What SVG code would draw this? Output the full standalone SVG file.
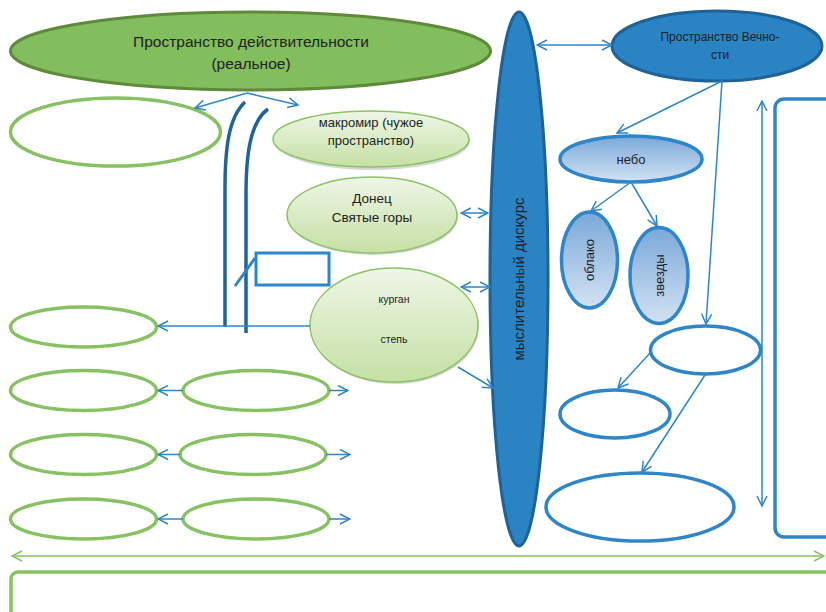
<svg xmlns="http://www.w3.org/2000/svg" width="826" height="612" viewBox="0 0 826 612">
<style>
text{font-family:"Liberation Sans","Noto Sans",Arial,sans-serif;fill:#222;text-anchor:middle}
.conn{fill:none;stroke:#2e86c8;stroke-width:1.5}
.gconn{fill:none;stroke:#86c262;stroke-width:1.5}
.gempty{fill:#fff;stroke:#86c262;stroke-width:3.5}
.bempty{fill:#fff;stroke:#2e86c8;stroke-width:3.5}
.dark{fill:#2a83c2;stroke:#1f6296;stroke-width:3}
.lgreen{stroke:#8bc264;stroke-width:1.5}
.curve{fill:none;stroke:#1f6498;stroke-width:3.5}
</style>
<defs>
<marker id="ah" viewBox="0 0 12 12" markerWidth="12" markerHeight="12" refX="11" refY="6" orient="auto-start-reverse" markerUnits="userSpaceOnUse">
<path d="M1,1 L11,6 L1,11" fill="none" stroke="#2e86c8" stroke-width="1.5"/>
</marker>
<marker id="gh" viewBox="0 0 12 12" markerWidth="12" markerHeight="12" refX="11" refY="6" orient="auto-start-reverse" markerUnits="userSpaceOnUse">
<path d="M1,1 L11,6 L1,11" fill="none" stroke="#86c262" stroke-width="1.5"/>
</marker>
<linearGradient id="gg" x1="0" y1="0" x2="0" y2="1">
<stop offset="0" stop-color="#eef6e6"/>
<stop offset="1" stop-color="#c5e0a4"/>
</linearGradient>
<linearGradient id="bg" x1="0" y1="0" x2="0" y2="1">
<stop offset="0" stop-color="#7aa8d9"/>
<stop offset="1" stop-color="#d3e2f3"/>
</linearGradient>
</defs>

<g id="reality">
<ellipse cx="250.5" cy="51" rx="240" ry="39" fill="#82bd5e" stroke="#5e8a3a" stroke-width="3"/>
<text x="251" y="47" font-size="15.5">Пространство действительности</text>
<text x="251" y="69" font-size="15.5">(реальное)</text>
</g>

<g id="left-empty-top"><ellipse class="gempty" cx="115.5" cy="132" rx="105" ry="34"/></g>

<g id="curves">
<path class="curve" d="M245,102 C228,118 225,150 225,190 L225,327"/>
<path class="curve" d="M268,109 C250,122 246,155 246,195 L246,333"/>
<path d="M235,286 L255,258" fill="none" stroke="#2e86c8" stroke-width="3"/>
</g>

<g id="small-rect"><rect x="256" y="253" width="73" height="32" fill="none" stroke="#2e86c8" stroke-width="3"/></g>

<g id="macromir">
<ellipse cx="372" cy="141" rx="98" ry="29" fill="#bbbbbb" opacity="0.6"/>
<ellipse class="lgreen" cx="371" cy="139" rx="98" ry="28" fill="url(#gg)"/>
<text x="371" y="127" font-size="13">макромир (чужое</text>
<text x="371" y="145" font-size="13">пространство)</text>
</g>

<g id="donets">
<ellipse cx="373" cy="217" rx="85" ry="38" fill="#bbbbbb" opacity="0.6"/>
<ellipse class="lgreen" cx="372" cy="215" rx="85" ry="38" fill="url(#gg)"/>
<text x="372" y="203" font-size="13.5">Донец</text>
<text x="372" y="222" font-size="13.5">Святые горы</text>
</g>

<g id="kurgan">
<ellipse cx="395" cy="327" rx="84" ry="57" fill="#bbbbbb" opacity="0.6"/>
<ellipse class="lgreen" cx="394" cy="325" rx="84" ry="57" fill="url(#gg)"/>
<text x="394" y="303" font-size="10.5">курган</text>
<text x="394" y="343" font-size="10.5">степь</text>
</g>

<g id="left-r1a"><ellipse class="gempty" cx="83.5" cy="327" rx="73" ry="20"/></g>
<g id="left-r2a"><ellipse class="gempty" cx="83.5" cy="390.5" rx="73" ry="20"/></g>
<g id="left-r2b"><ellipse class="gempty" cx="256" cy="390.5" rx="73" ry="20"/></g>
<g id="left-r3a"><ellipse class="gempty" cx="83.5" cy="454.5" rx="73" ry="20"/></g>
<g id="left-r3b"><ellipse class="gempty" cx="253" cy="454.5" rx="73" ry="20"/></g>
<g id="left-r4a"><ellipse class="gempty" cx="83.5" cy="519" rx="73" ry="20"/></g>
<g id="left-r4b"><ellipse class="gempty" cx="256" cy="519" rx="73" ry="20"/></g>

<g id="discourse">
<ellipse class="dark" cx="519" cy="279" rx="29" ry="267"/>
<text transform="translate(524,279) rotate(-90)" font-size="15" fill="#111">мыслительный дискурс</text>
</g>

<g id="eternity">
<ellipse class="dark" cx="717" cy="46" rx="105" ry="35"/>
<text x="720" y="41" font-size="12" fill="#111">Пространство Вечно-</text>
<text x="720" y="59" font-size="12" fill="#111">сти</text>
</g>

<g id="sky">
<ellipse cx="631" cy="159" rx="71" ry="23" fill="url(#bg)" stroke="#2e86c8" stroke-width="3.5"/>
<text x="631" y="164" font-size="13">небо</text>
</g>

<g id="cloud">
<ellipse cx="589.5" cy="260" rx="28" ry="48" fill="url(#bg)" stroke="#2e86c8" stroke-width="3.5"/>
<text transform="translate(594,260) rotate(-90)" font-size="13">облако</text>
</g>

<g id="stars">
<ellipse cx="659" cy="275.5" rx="29" ry="48" fill="url(#bg)" stroke="#2e86c8" stroke-width="3.5"/>
<text transform="translate(664,275.5) rotate(-90)" font-size="13">звезды</text>
</g>

<g id="right-e1"><ellipse class="bempty" cx="705.5" cy="350" rx="55" ry="24"/></g>
<g id="right-e2"><ellipse class="bempty" cx="615" cy="414" rx="55" ry="24"/></g>
<g id="right-e3"><ellipse class="bempty" cx="640" cy="507" rx="94" ry="34"/></g>

<g id="right-rect"><rect x="775" y="99" width="70" height="438" rx="9" fill="none" stroke="#2e86c8" stroke-width="3.5"/></g>

<g id="bottom-rect"><rect x="11" y="572" width="840" height="60" rx="7" fill="none" stroke="#86c262" stroke-width="3.5"/></g>

<g id="connectors">
<path class="conn" d="M247,93 L195,108" marker-end="url(#ah)"/>
<path class="conn" d="M247,93 L298,105" marker-end="url(#ah)"/>
<path class="conn" d="M310,326 L158,326" marker-end="url(#ah)"/>
<path class="conn" d="M183,390.5 L158,390.5" marker-end="url(#ah)"/>
<path class="conn" d="M329,390.5 L348,390.5" marker-end="url(#ah)"/>
<path class="conn" d="M180,454.5 L158,454.5" marker-end="url(#ah)"/>
<path class="conn" d="M326,454.5 L350,454.5" marker-end="url(#ah)"/>
<path class="conn" d="M183,519 L158,519" marker-end="url(#ah)"/>
<path class="conn" d="M329,519 L350,519" marker-end="url(#ah)"/>
<path class="conn" d="M461,213 L488,213" marker-start="url(#ah)" marker-end="url(#ah)"/>
<path class="conn" d="M461,287 L490,287" marker-start="url(#ah)" marker-end="url(#ah)"/>
<path class="conn" d="M458,367 L493,388" marker-end="url(#ah)"/>
<path class="conn" d="M537,45 L612,45" marker-start="url(#ah)" marker-end="url(#ah)"/>
<path class="conn" d="M722,81 L617,133" marker-end="url(#ah)"/>
<path class="conn" d="M722,81 L706,324" marker-end="url(#ah)"/>
<path class="conn" d="M631,182 L591,211" marker-end="url(#ah)"/>
<path class="conn" d="M631,182 L657,226" marker-end="url(#ah)"/>
<path class="conn" d="M651,352 L618,388" marker-end="url(#ah)"/>
<path class="conn" d="M705,375 L642,472" marker-end="url(#ah)"/>
<path class="conn" d="M762,101 L762,506" marker-start="url(#ah)" marker-end="url(#ah)"/>
<path class="gconn" d="M12,556 L824,556" marker-start="url(#gh)" marker-end="url(#gh)"/>
</g>
</svg>
